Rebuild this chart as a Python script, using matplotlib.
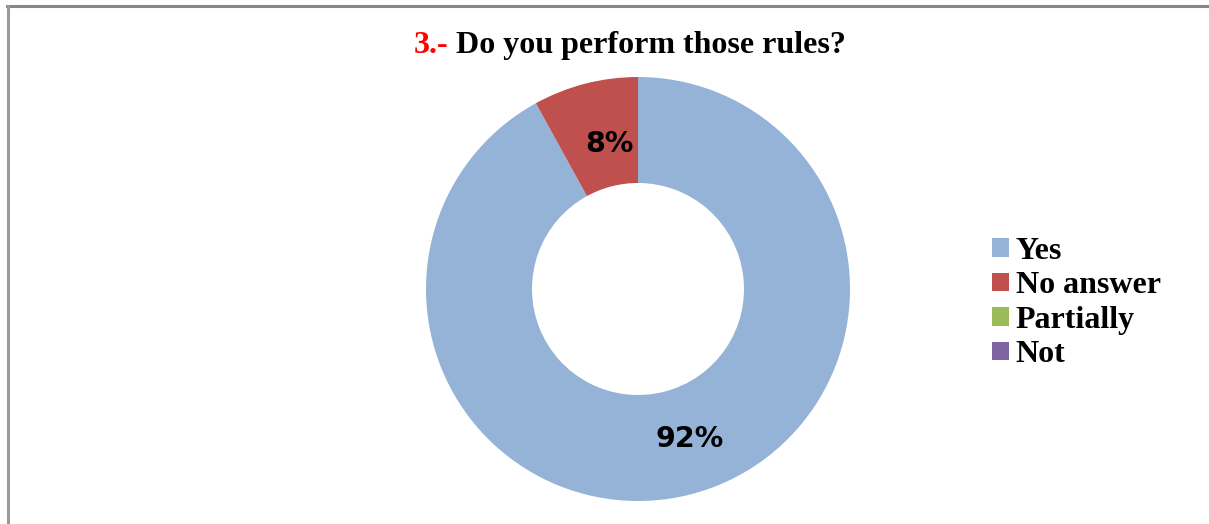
import matplotlib.pyplot as plt
from matplotlib.lines import Line2D

# survey answers for question 3
categories = ['Yes', 'No answer', 'Partially', 'Not']
shares = [92, 8, 0, 0]
colors = ['#95B3D7', '#C0504D', '#9BBB59', '#8064A2']

W, H = 1209, 524
fig = plt.figure(figsize=(W / 100, H / 100), dpi=100)
fig.patch.set_facecolor('white')

# chart frame (top and left edges)
fig.add_artist(Line2D([7 / W, 1], [1 - 6 / H, 1 - 6 / H], color='#878787', lw=2.2))
fig.add_artist(Line2D([8 / W, 8 / W], [0, 1 - 6 / H], color='#9a9a9a', lw=2.2))

# donut
cx, cy, r = 638, 289, 212
ax = fig.add_axes([(cx - r) / W, (H - cy - r) / H, 2 * r / W, 2 * r / H])


def pct_label(p):
    return f'{p:.0f}%' if p > 0.5 else ''


wedges, _, autotexts = ax.pie(shares, colors=colors, startangle=90, counterclock=False,
                              radius=1.0, wedgeprops=dict(width=0.5, linewidth=0),
                              autopct=pct_label, pctdistance=0.73)
# nudge the value labels a little toward the slice edges
nudges = [(0.06, 0.0), (0.045, -0.022), (0, 0), (0, 0)]
for t, (dx, dy) in zip(autotexts, nudges):
    x, y = t.get_position()
    t.set_position((x + dx, y + dy))
    t.set_fontsize(20.5)
    t.set_fontweight('bold')
    t.set_family('DejaVu Sans')
    t.set_color('black')
ax.set_xlim(-1, 1)
ax.set_ylim(-1, 1)
ax.set_aspect('equal')
ax.axis('off')

# title, number in red
fig.text(414 / W, 1 - 53 / H, '3.-', color='#FF0000', fontsize=23, fontweight='bold',
         family='Liberation Serif', ha='left', va='baseline')
fig.text(456 / W, 1 - 53 / H, 'Do you perform those rules?', color='black', fontsize=23,
         fontweight='bold', family='Liberation Serif', ha='left', va='baseline')

leg = fig.legend(wedges, categories, loc='upper left', bbox_to_anchor=(992 / W, 1 - 237 / H),
                 frameon=False, handlelength=0.52, handleheight=0.52, handletextpad=0.22,
                 labelspacing=0.17, borderpad=0, borderaxespad=0,
                 prop=dict(family='Liberation Serif', weight='bold', size=23))

fig.savefig('out.png', dpi=100)
